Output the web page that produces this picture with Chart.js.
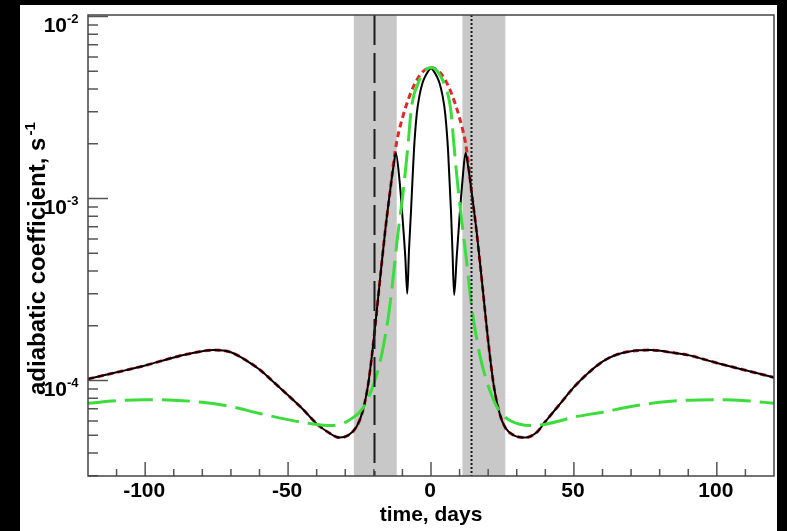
<!DOCTYPE html>
<html>
<head>
<meta charset="utf-8">
<script src="https://cdn.jsdelivr.net/npm/chart.js@4"></script>
<style>
html,body{margin:0;padding:0;background:#000;overflow:hidden;}
canvas{display:block;}
</style>
</head>
<body>
<canvas id="c" width="787" height="531"></canvas>
<script>
// ---- data ----
const blackDays = [-120,-110,-100,-90,-85,-80,-76,-70,-65,-60,-55,-50,-45,-40,-36,-32,-29,-26,-24,-22,-20,-18,-16,-14,-13,-12.3,-11,-10,-9,-8.3,-7.7,-7,-6,-5,-4,-3,-2,-1,0,1,2,3,4,5,6,7,7.5,8.1,9,10,11,12.1,13,14,16,18,20,22,24,26,29,33,37,40,45,50,55,60,65,70,77,85,90,100,110,120];
const blackValues = [1.02e-4,1.11e-4,1.21e-4,1.34e-4,1.40e-4,1.45e-4,1.47e-4,1.43e-4,1.30e-4,1.15e-4,9.8e-5,8.3e-5,7.0e-5,5.8e-5,5.2e-5,4.86e-5,5.0e-5,5.6e-5,6.7e-5,9.5e-5,1.7e-4,3.4e-4,6.7e-4,1.2e-3,1.55e-3,1.78e-3,1.25e-3,8.0e-4,4.8e-4,3.0e-4,5.2e-4,8.5e-4,1.8e-3,2.9e-3,3.7e-3,4.3e-3,4.7e-3,5.0e-3,5.2e-3,5.0e-3,4.7e-3,4.3e-3,3.7e-3,2.9e-3,1.8e-3,8.5e-4,5.2e-4,2.95e-4,4.8e-4,8.0e-4,1.25e-3,1.78e-3,1.5e-3,1.15e-3,6.5e-4,3.3e-4,1.65e-4,9.3e-5,6.6e-5,5.5e-5,5.0e-5,4.86e-5,5.2e-5,5.95e-5,7.4e-5,9.2e-5,1.1e-4,1.27e-4,1.39e-4,1.45e-4,1.47e-4,1.42e-4,1.38e-4,1.25e-4,1.14e-4,1.04e-4];

const redDays = [-120,-110,-100,-90,-85,-80,-76,-70,-65,-60,-55,-50,-45,-40,-36,-32,-29,-26,-24,-22,-20,-18,-16,-14,-13,-12,-11,-10,-9,-8,-7,-6,-5,-4,-3,-2,-1,0,1,2,3,4,5,6,7,8,9,10,11,12,13,14,16,18,20,22,24,26,29,33,37,40,45,50,55,60,65,70,77,85,90,100,110,120];
const redValues = [1.02e-4,1.11e-4,1.21e-4,1.34e-4,1.40e-4,1.45e-4,1.47e-4,1.43e-4,1.30e-4,1.15e-4,9.8e-5,8.3e-5,7.0e-5,5.8e-5,5.2e-5,4.86e-5,5.0e-5,5.6e-5,6.7e-5,9.5e-5,1.7e-4,3.4e-4,6.7e-4,1.2e-3,1.62e-3,2.05e-3,2.42e-3,2.77e-3,3.13e-3,3.48e-3,3.84e-3,4.17e-3,4.47e-3,4.74e-3,4.95e-3,5.11e-3,5.21e-3,5.25e-3,5.21e-3,5.11e-3,4.95e-3,4.74e-3,4.47e-3,4.17e-3,3.84e-3,3.48e-3,3.13e-3,2.77e-3,2.42e-3,2.05e-3,1.6e-3,1.15e-3,6.5e-4,3.3e-4,1.65e-4,9.3e-5,6.6e-5,5.5e-5,5.0e-5,4.86e-5,5.2e-5,5.95e-5,7.4e-5,9.2e-5,1.1e-4,1.27e-4,1.39e-4,1.45e-4,1.47e-4,1.42e-4,1.38e-4,1.25e-4,1.14e-4,1.04e-4];

const greenDays = [-120,-110,-100,-90,-80,-70,-60,-50,-42,-35,-30,-27,-25,-23,-21,-19,-17,-15,-14,-13,-12,-11,-10,-9,-8,-7,-6,-5,-4,-3,-2,-1,0,1,2,3,4,5,6,7,8,9,10,11,12,13,14,15,17,19,21,23,25,28,31,35,40,45,50,60,70,80,90,100,110,120];
const greenValues = [7.5e-5,7.75e-5,7.85e-5,7.8e-5,7.6e-5,7.2e-5,6.6e-5,6.1e-5,5.8e-5,5.66e-5,5.9e-5,6.3e-5,6.7e-5,7.4e-5,8.7e-5,1.08e-4,1.45e-4,2.2e-4,2.9e-4,4.0e-4,5.6e-4,7.6e-4,1.0e-3,1.4e-3,2.0e-3,3.0e-3,3.7e-3,4.1e-3,4.5e-3,4.8e-3,5.05e-3,5.2e-3,5.25e-3,5.2e-3,5.05e-3,4.8e-3,4.5e-3,4.1e-3,3.7e-3,3.0e-3,2.0e-3,1.35e-3,9.5e-4,7.0e-4,5.2e-4,3.8e-4,2.7e-4,2.1e-4,1.4e-4,1.05e-4,8.5e-5,7.2e-5,6.5e-5,6.0e-5,5.75e-5,5.66e-5,5.75e-5,6.0e-5,6.3e-5,6.7e-5,7.2e-5,7.6e-5,7.8e-5,7.85e-5,7.75e-5,7.5e-5];

const bandStarts = [-27, 11];
const bandEnds = [-12, 26];
const dashedLineDay = -20;
const dottedLineDay = 14;

const xTickValues = [-100, -50, 0, 50, 100];
const xTickLabels = ['-100', '-50', '0', '50', '100'];
const xMinorTicks = [-110,-90,-80,-70,-60,-40,-30,-20,-10,10,20,30,40,60,70,80,90,110];
const yTickValues = [1e-2, 1e-3, 1e-4];
const yTickExponents = ['-2', '-3', '-4'];
const xTitle = 'time, days';
const yTitle = 'adiabatic coefficient, s';
const yTitleExp = '-1';

function pts(xs, ys) { return xs.map((x, i) => ({x: x, y: ys[i]})); }

const FONT = "'Liberation Sans', Arial, sans-serif";

const decor = {
  id: 'decor',
  beforeDraw(chart) {
    const ctx = chart.ctx;
    ctx.save();
    ctx.fillStyle = '#000';
    ctx.fillRect(0, 0, chart.width, chart.height);
    ctx.fillStyle = '#fff';
    ctx.fillRect(20, 5, 757, 526);
    ctx.restore();
  },
  beforeDatasetsDraw(chart) {
    const ctx = chart.ctx, a = chart.chartArea, xs = chart.scales.x;
    ctx.save();
    ctx.fillStyle = '#c8c8c8';
    for (let i = 0; i < bandStarts.length; i++) {
      const x0 = xs.getPixelForValue(bandStarts[i]);
      const x1 = xs.getPixelForValue(bandEnds[i]);
      ctx.fillRect(x0, a.top, x1 - x0, a.bottom - a.top);
    }
    ctx.restore();
  },
  afterDatasetsDraw(chart) {
    const ctx = chart.ctx, a = chart.chartArea, xs = chart.scales.x, ys = chart.scales.y;
    ctx.save();
    // vertical marker lines
    ctx.strokeStyle = '#1a1a1a';
    ctx.lineWidth = 2;
    ctx.setLineDash([30, 8]);
    let px = Math.round(xs.getPixelForValue(dashedLineDay)) + 0.5;
    ctx.beginPath(); ctx.moveTo(px, a.top); ctx.lineTo(px, a.bottom); ctx.stroke();
    ctx.setLineDash([2, 2]);
    px = Math.round(xs.getPixelForValue(dottedLineDay)) + 0.5;
    ctx.beginPath(); ctx.moveTo(px, a.top); ctx.lineTo(px, a.bottom); ctx.stroke();
    ctx.setLineDash([]);

    // ticks
    ctx.strokeStyle = '#555';
    ctx.lineWidth = 1.5;
    ctx.beginPath();
    for (const v of xTickValues) {
      const p = xs.getPixelForValue(v);
      ctx.moveTo(p, a.bottom); ctx.lineTo(p, a.bottom - 14);
    }
    for (const v of xMinorTicks) {
      const p = xs.getPixelForValue(v);
      ctx.moveTo(p, a.bottom); ctx.lineTo(p, a.bottom - 7);
    }
    for (const v of yTickValues) {
      const p = ys.getPixelForValue(v);
      ctx.moveTo(a.left, p); ctx.lineTo(a.left + 20, p);
    }
    for (const dec of yTickValues) {
      for (let k = 2; k <= 9; k++) {
        const v = dec / 10 * k;
        if (v < ys.min || v > ys.max) continue;
        const p = ys.getPixelForValue(v);
        ctx.moveTo(a.left, p); ctx.lineTo(a.left + 10, p);
      }
    }
    ctx.stroke();

    // frame
    ctx.strokeStyle = '#444';
    ctx.lineWidth = 1.5;
    ctx.strokeRect(a.left, a.top, a.right - a.left, a.bottom - a.top);

    // tick labels
    ctx.fillStyle = '#000';
    ctx.font = 'bold 21px ' + FONT;
    ctx.textAlign = 'center';
    ctx.textBaseline = 'alphabetic';
    xTickValues.forEach((v, i) => {
      ctx.fillText(xTickLabels[i], xs.getPixelForValue(v) - 1, 497);
    });
    yTickValues.forEach((v, i) => {
      const p = ys.getPixelForValue(v);
      ctx.font = 'bold 21px ' + FONT;
      ctx.textAlign = 'right';
      ctx.fillText('10', 67, p + 15);
      ctx.font = 'bold 13px ' + FONT;
      ctx.textAlign = 'left';
      ctx.fillText(yTickExponents[i], 67, p + 6);
    });

    // axis titles
    ctx.font = 'bold 21px ' + FONT;
    ctx.textAlign = 'center';
    ctx.fillText(xTitle, (a.left + a.right) / 2, 521);

    ctx.translate(45, 395);
    ctx.rotate(-Math.PI / 2);
    ctx.textAlign = 'left';
    ctx.font = 'bold 24px ' + FONT;
    ctx.fillText(yTitle, 0, 0);
    const w = ctx.measureText(yTitle).width;
    ctx.font = 'bold 15px ' + FONT;
    ctx.fillText(yTitleExp, w + 2, -10);
    ctx.restore();
  }
};

new Chart(document.getElementById('c'), {
  type: 'line',
  data: {
    datasets: [
      { label: 'green', data: pts(greenDays, greenValues), borderColor: '#3ddc3d', borderWidth: 3, borderDash: [28, 9], order: 0 },
      { label: 'black', data: pts(blackDays, blackValues), borderColor: '#000', borderWidth: 2, order: 1 },
      { label: 'red', data: pts(redDays, redValues), borderColor: '#e02828', borderWidth: 3, borderDash: [6, 4], order: 2 }
    ]
  },
  options: {
    responsive: false,
    animation: false,
    devicePixelRatio: 1,
    layout: { padding: { left: 20, top: 15, right: 13, bottom: 0 } },
    elements: { point: { radius: 0 }, line: { cubicInterpolationMode: 'monotone', fill: false } },
    plugins: { legend: { display: false }, tooltip: { enabled: false } },
    scales: {
      x: {
        type: 'linear', min: -120, max: 120,
        grid: { display: false }, border: { display: false },
        ticks: { display: false },
        afterFit(s) { s.height = 55; }
      },
      y: {
        type: 'logarithmic', min: 2.99e-5, max: 0.0102,
        grid: { display: false }, border: { display: false },
        ticks: { display: false },
        afterFit(s) { s.width = 68; }
      }
    }
  },
  plugins: [decor]
});
</script>
</body>
</html>
